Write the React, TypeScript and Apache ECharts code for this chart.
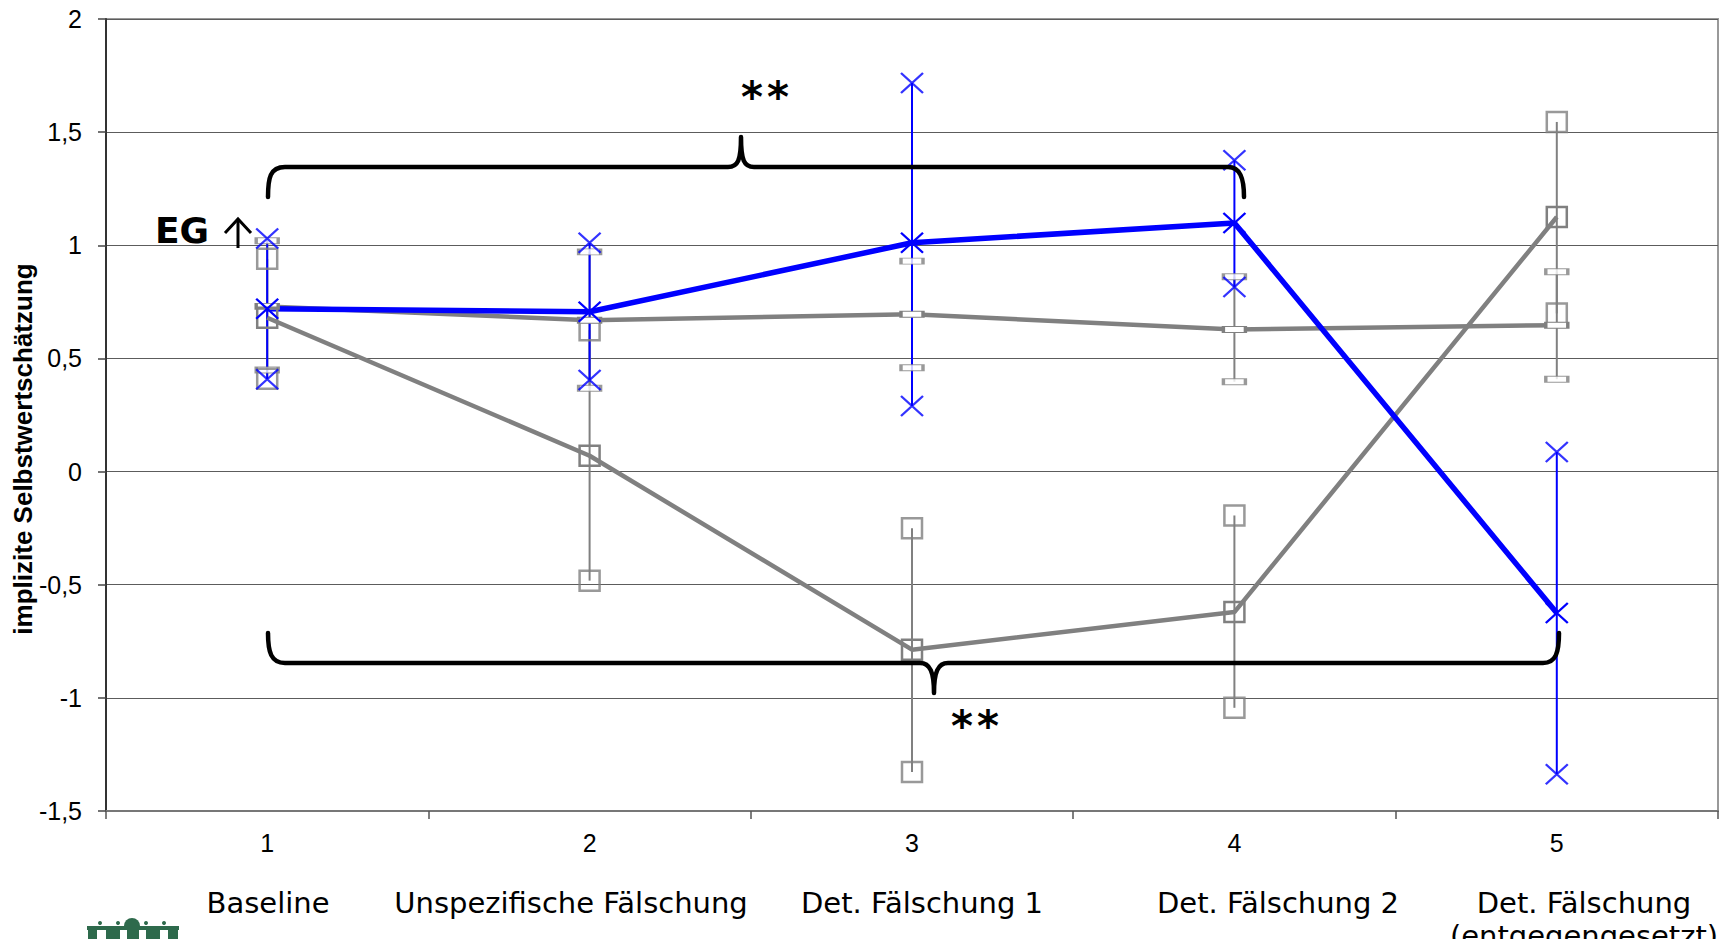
import React, { useEffect, useRef } from "react";
import * as echarts from "echarts";

// ---- data ----
const tickLabels = ["1", "2", "3", "4", "5"];
const categoryNames = [
  "Baseline",
  "Unspezifische Fälschung",
  "Det. Fälschung 1",
  "Det. Fälschung 2",
  "Det. Fälschung",
];
const categoryNameLine2 = ["", "", "", "", "(entgegengesetzt)"];

// EG (blue, X markers)
const egMean = [0.72, 0.706, 1.011, 1.099, -0.625];
const egUpper = [1.03, 1.011, 1.717, 1.376, 0.087];
const egLower = [0.408, 0.405, 0.29, 0.816, -1.338];

// gray series with square markers
const sqMean = [0.68, 0.07, -0.787, -0.621, 1.125];
const sqUpper = [0.94, 0.625, -0.25, -0.194, 1.545];
const sqLower = [0.41, -0.482, -1.328, -1.044, 0.699];

// gray series with dash markers
const dashMean = [0.73, 0.669, 0.695, 0.628, 0.647];
const dashUpper = [1.02, 0.971, 0.93, 0.861, 0.883];
const dashLower = [0.449, 0.368, 0.459, 0.397, 0.408];

const yMin = -1.5;
const yMax = 2;
const yStep = 0.5;

// layout constants (annotations)
const nameCenters = [268, 571, 922, 1278, 1584];

const BLUE = "#0000ff";
const GRAY = "#808080";
const SANS = "'DejaVu Sans', Verdana, sans-serif";
const ARIAL = "'Liberation Sans', Arial, sans-serif";

echarts.graphic.registerShape(
  "braceTop",
  echarts.graphic.extendPath(
    "M268,197 C268,178 270,167 285,167 L728,167 C738,167 741,160 741,137 C741,160 744,167 754,167 L1228,167 C1240,167 1244,178 1244,197",
    {}
  )
);
echarts.graphic.registerShape(
  "braceBottom",
  echarts.graphic.extendPath(
    "M268,633 C268,652 271,663 285,663 L920,663 C930,663 934,672 934,693 C934,672 938,663 948,663 L1543,663 C1556,663 1559,652 1559,633",
    {}
  )
);

const X_SYMBOL = "path://M0,0L20,20M20,0L0,20";

function errorSeries(lower: number[], upper: number[], color: string, width: number) {
  return {
    type: "custom",
    silent: true,
    data: lower.map((l, i) => [i, l, upper[i]]),
    encode: { x: 0, y: [1, 2] },
    renderItem: (params: any, api: any) => {
      const x = api.value(0);
      const lo = api.coord([x, api.value(1)]);
      const hi = api.coord([x, api.value(2)]);
      return {
        type: "line",
        shape: { x1: lo[0], y1: lo[1], x2: hi[0], y2: hi[1] },
        style: { stroke: color, lineWidth: width },
      };
    },
  };
}

function star(x: number, y: number) {
  return {
    type: "text",
    x,
    y,
    z: 10,
    style: { text: "*", font: "bold 42px " + SANS, fill: "#000", align: "center", verticalAlign: "middle" },
  };
}

export default function App() {
  const ref = useRef<HTMLDivElement>(null);
  useEffect(() => {
    document.body.style.margin = "0";
    document.body.style.overflow = "hidden";
    if (!ref.current) return;
    const chart = echarts.init(ref.current, undefined, { renderer: "svg" });

    const sqStyle = { color: "rgba(0,0,0,0)", borderColor: GRAY, borderWidth: 2.5 };
    const dashStyle = { color: "#ffffff", borderColor: GRAY, borderWidth: 1.8 };
    const xStyle = { color: "rgba(0,0,0,0)", borderColor: BLUE, borderWidth: 2.2 };

    const option: any = {
      animation: false,
      backgroundColor: "#ffffff",
      textStyle: { fontFamily: ARIAL },
      grid: {
        left: 106,
        right: 7,
        top: 19,
        bottom: 128,
        show: true,
        borderColor: "#999",
        borderWidth: 2,
        containLabel: false,
      },
      xAxis: {
        type: "category",
        data: tickLabels,
        boundaryGap: true,
        axisLine: { onZero: false, lineStyle: { color: "#777", width: 2 } },
        axisTick: { show: true, length: 8, lineStyle: { color: "#555", width: 1.5 } },
        axisLabel: { color: "#000", fontSize: 25, margin: 19, fontFamily: ARIAL },
        splitLine: { show: false },
      },
      yAxis: {
        type: "value",
        min: yMin,
        max: yMax,
        interval: yStep,
        axisLine: { show: true, onZero: false, lineStyle: { color: "#333", width: 2 } },
        axisTick: { show: true, length: 8, lineStyle: { color: "#444", width: 1.5 } },
        axisLabel: {
          color: "#000",
          fontSize: 25,
          margin: 24,
          fontFamily: ARIAL,
          formatter: (v: number) => String(v).replace(".", ","),
        },
        splitLine: { show: true, lineStyle: { color: "#5c5c5c", width: 1.2 } },
      },
      series: [
        errorSeries(dashLower, dashUpper, GRAY, 2),
        errorSeries(sqLower, sqUpper, GRAY, 2),
        {
          type: "line",
          data: dashMean,
          silent: true,
          lineStyle: { color: GRAY, width: 4.5 },
          symbol: "rect",
          symbolSize: [22, 6],
          itemStyle: dashStyle,
        },
        {
          type: "line",
          data: sqMean,
          silent: true,
          lineStyle: { color: GRAY, width: 4.5 },
          symbol: "rect",
          symbolSize: 20,
          itemStyle: sqStyle,
        },
        {
          type: "scatter",
          silent: true,
          data: dashUpper.map((v, i) => [i, v]).concat(dashLower.map((v, i) => [i, v])),
          symbol: "rect",
          symbolSize: [22, 6],
          itemStyle: dashStyle,
        },
        {
          type: "scatter",
          silent: true,
          data: sqUpper.map((v, i) => [i, v]).concat(sqLower.map((v, i) => [i, v])),
          symbol: "rect",
          symbolSize: 20,
          itemStyle: sqStyle,
        },
        errorSeries(egLower, egUpper, BLUE, 2),
        {
          type: "line",
          data: egMean,
          silent: true,
          lineStyle: { color: BLUE, width: 5.5 },
          symbol: X_SYMBOL,
          symbolSize: [22, 20],
          itemStyle: xStyle,
        },
        {
          type: "scatter",
          silent: true,
          data: egUpper.map((v, i) => [i, v]).concat(egLower.map((v, i) => [i, v])),
          symbol: X_SYMBOL,
          symbolSize: [22, 20],
          itemStyle: xStyle,
        },
      ],
      graphic: [
        {
          type: "text",
          x: 23,
          y: 449,
          rotation: Math.PI / 2,
          style: {
            text: "implizite Selbstwertschätzung",
            font: "bold 26px " + ARIAL,
            fill: "#000",
            align: "center",
            verticalAlign: "middle",
          },
        },
        {
          type: "braceTop",
          x: 0,
          y: 0,
          z: 10,
          style: { fill: "none", stroke: "#000", lineWidth: 4.5, lineCap: "round", lineJoin: "round" },
        },
        {
          type: "braceBottom",
          x: 0,
          y: 0,
          z: 10,
          style: { fill: "none", stroke: "#000", lineWidth: 4.5, lineCap: "round", lineJoin: "round" },
        },
        star(752, 97),
        star(778, 97),
        star(962, 726),
        star(988, 726),
        {
          type: "text",
          x: 155,
          y: 230,
          z: 10,
          style: { text: "EG", font: "bold 36px " + SANS, fill: "#000", align: "left", verticalAlign: "middle" },
        },
        {
          type: "polyline",
          z: 10,
          shape: { points: [[238, 248], [238, 219]] },
          style: { stroke: "#000", lineWidth: 3, fill: "none" },
        },
        {
          type: "polyline",
          z: 10,
          shape: { points: [[225, 233], [238, 219], [251, 233]] },
          style: { stroke: "#000", lineWidth: 3, fill: "none", lineJoin: "miter" },
        },
        ...categoryNames.map((n, i) => ({
          type: "text",
          x: nameCenters[i],
          y: 903,
          style: { text: n, font: "29px " + SANS, fill: "#000", align: "center", verticalAlign: "middle" },
        })),
        ...categoryNameLine2
          .map((n, i) => ({ n, i }))
          .filter((o) => o.n)
          .map((o) => ({
            type: "text",
            x: nameCenters[o.i],
            y: 936,
            style: { text: o.n, font: "29px " + SANS, fill: "#000", align: "center", verticalAlign: "middle" },
          })),
        // logo (partially visible)
        {
          type: "group",
          children: [
            { type: "rect", shape: { x: 87, y: 926, width: 92, height: 4 }, style: { fill: "#2e6a4c" } },
            { type: "sector", shape: { cx: 132, cy: 926, r: 8, startAngle: Math.PI, endAngle: 2 * Math.PI }, style: { fill: "#2e6a4c" } },
            { type: "circle", shape: { cx: 100, cy: 923, r: 2 }, style: { fill: "#2e6a4c" } },
            { type: "circle", shape: { cx: 118, cy: 923, r: 2 }, style: { fill: "#2e6a4c" } },
            { type: "circle", shape: { cx: 146, cy: 923, r: 2 }, style: { fill: "#2e6a4c" } },
            { type: "circle", shape: { cx: 164, cy: 923, r: 2 }, style: { fill: "#2e6a4c" } },
            { type: "rect", shape: { x: 88, y: 930, width: 9, height: 9 }, style: { fill: "#2e6a4c" } },
            { type: "rect", shape: { x: 106, y: 930, width: 14, height: 9 }, style: { fill: "#2e6a4c" } },
            { type: "rect", shape: { x: 127, y: 930, width: 12, height: 9 }, style: { fill: "#2e6a4c" } },
            { type: "rect", shape: { x: 146, y: 930, width: 14, height: 9 }, style: { fill: "#2e6a4c" } },
            { type: "rect", shape: { x: 168, y: 930, width: 10, height: 9 }, style: { fill: "#2e6a4c" } },
          ],
        },
      ],
    };
    chart.setOption(option);
    return () => chart.dispose();
  }, []);
  return <div ref={ref} style={{ width: 1725, height: 939 }} />;
}
